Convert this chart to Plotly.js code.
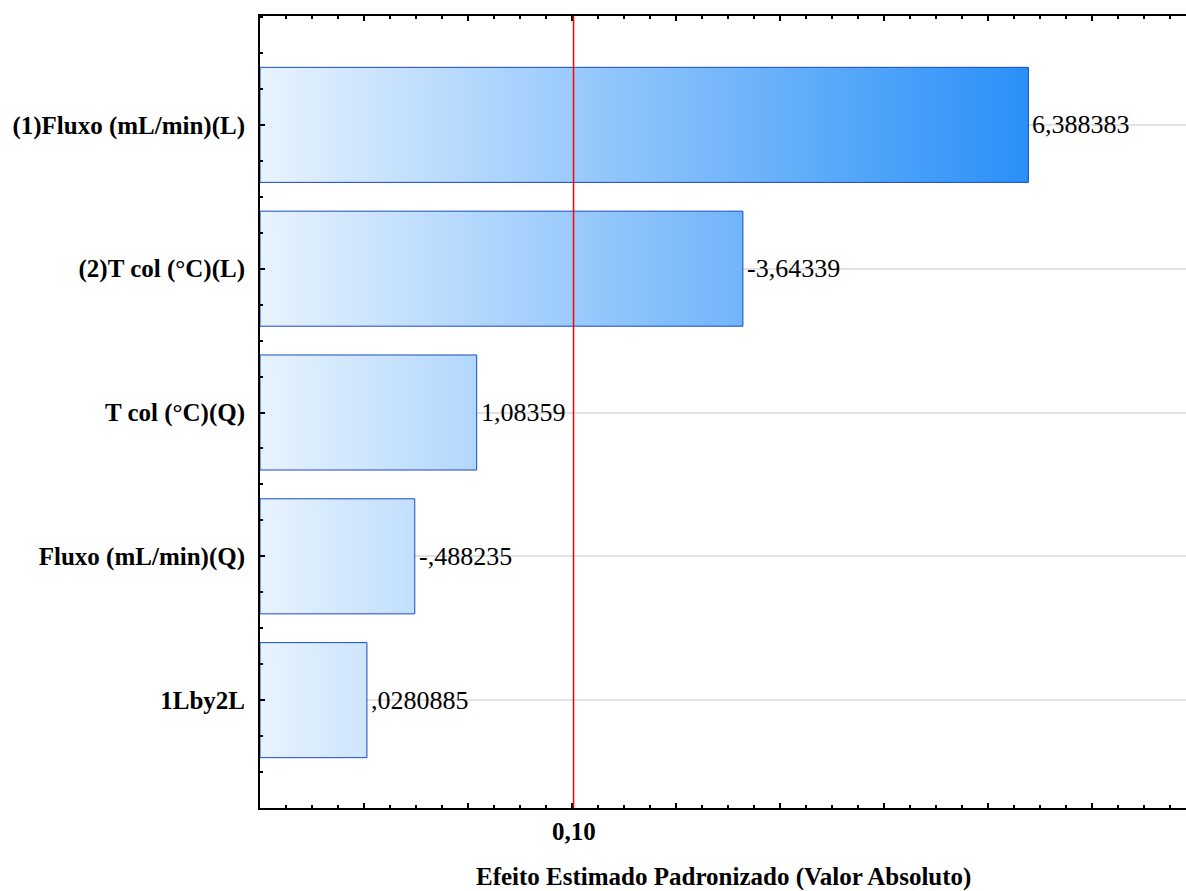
<!DOCTYPE html>
<html>
<head>
<meta charset="utf-8">
<script src="https://cdn.plot.ly/plotly-3.0.1.min.js"></script>
<style>html,body{margin:0;padding:0;background:#fff;}</style>
</head>
<body>
<div id="chart" style="width:1186px;height:891px;"></div>
<script>
// Data (top to bottom)
const categories = ["(1)Fluxo (mL/min)(L)", "(2)T col (°C)(L)", "T col (°C)(Q)", "Fluxo (mL/min)(Q)", "1Lby2L"];
const effects = [6.388383, -3.64339, 1.08359, -0.488235, 0.0280885];
const effectLabels = ["6,388383", "-3,64339", "1,08359", "-,488235", ",0280885"];
const tCritical = 2.015;   // p = 0.10 reference line
const pLabel = "0,10";
const xTickValues = [-1, 0, 1, 2, 3, 4, 5, 6, 7];
const xTitle = "Efeito Estimado Padronizado (Valor Absoluto)";

const xMin = -1, xMax = 7.904;
const barHalf = 0.4;
const n = categories.length;
const yPos = categories.map((c, i) => n - 1 - i);
const absVals = effects.map(v => Math.abs(v));
const maxVal = Math.max(...absVals);
const font = "Liberation Serif, Times New Roman, serif";

const traces = [];
absVals.forEach((v, i) => {
  const y = yPos[i];
  traces.push({
    type: 'scatter', mode: 'lines',
    x: [xMin, v, v, xMin, xMin],
    y: [y - barHalf, y - barHalf, y + barHalf, y + barHalf, y - barHalf],
    fill: 'toself',
    fillgradient: {type: 'horizontal', start: xMin, stop: maxVal,
      colorscale: [[0, '#e8f3fe'], [1, '#2990f8']]},
    line: {color: '#1a48cc', width: 1},
    hoverinfo: 'skip', showlegend: false
  });
});

const valueAnnotations = absVals.map((v, i) => ({
  xref: 'x', yref: 'y', x: v, y: yPos[i], xanchor: 'left', yanchor: 'middle',
  xshift: 2, text: effectLabels[i], showarrow: false,
  font: {family: font, size: 26, color: '#000'}
}));

const layout = {
  width: 1186, height: 891,
  margin: {l: 260, r: 0, t: 16, b: 83},
  paper_bgcolor: '#fff', plot_bgcolor: '#fff',
  showlegend: false,
  xaxis: {
    range: [xMin, xMax], showgrid: false, zeroline: false,
    showline: true, linecolor: '#000', linewidth: 2, mirror: 'ticks',
    tickmode: 'array', tickvals: xTickValues, ticktext: xTickValues.map(() => ''),
    ticks: 'inside', ticklen: 5, tickwidth: 2, tickcolor: '#000',
    minor: {tickmode: 'linear', tick0: 0, dtick: 0.25, ticks: 'inside', ticklen: 3, tickwidth: 2, tickcolor: '#000', showgrid: false}
  },
  yaxis: {
    range: [-0.75, 4.757], zeroline: false,
    showline: true, linecolor: '#000', linewidth: 2,
    tickmode: 'array', tickvals: yPos, ticktext: categories,
    tickfont: {family: font, size: 25, color: '#000', weight: 'bold'},
    ticks: 'inside', ticklen: 5, tickwidth: 2, tickcolor: '#000',
    ticklabelstandoff: 8,
    showgrid: true, gridcolor: '#e2e2e2', gridwidth: 2,
    minor: {tickmode: 'linear', tick0: 0, dtick: 0.25, ticks: 'inside', ticklen: 3, tickwidth: 2, tickcolor: '#000', showgrid: false}
  },
  shapes: [{type: 'line', xref: 'x', yref: 'paper', x0: tCritical, x1: tCritical, y0: 0, y1: 1,
    line: {color: '#ff0000', width: 1.5}}],
  annotations: valueAnnotations.concat([
    {xref: 'x', yref: 'paper', x: tCritical, y: 0, yshift: -23, yanchor: 'middle',
      text: '<b>' + pLabel + '</b>', showarrow: false, font: {family: font, size: 25, color: '#000'}},
    {xref: 'paper', yref: 'paper', x: 0.5, y: 0, yshift: -69, yanchor: 'middle', xanchor: 'center',
      text: '<b>' + xTitle + '</b>', showarrow: false, font: {family: font, size: 25, color: '#000'}}
  ])
};

Plotly.newPlot('chart', traces, layout, {displayModeBar: false, staticPlot: true});
</script>
</body>
</html>
